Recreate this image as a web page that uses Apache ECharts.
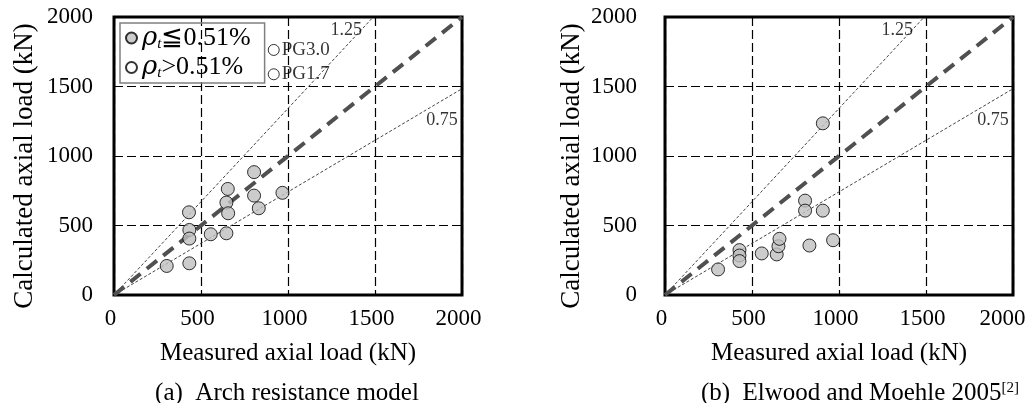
<!DOCTYPE html>
<html>
<head>
<meta charset="utf-8">
<script src="https://cdn.jsdelivr.net/npm/echarts@6/dist/echarts.min.js"></script>
<style>html,body{margin:0;padding:0;background:#fff;}#c{width:1035px;height:403px;}</style>
</head>
<body>
<div id="c"></div>
<script>
// ---- data ----
const ticks = [0, 500, 1000, 1500, 2000];
// (a) Arch resistance model, rho_t <= 0.51%
const archMeasured   = [303, 433, 431, 433, 433, 556, 646, 654, 646, 656, 805, 805, 832, 968];
const archCalculated = [209, 228, 595, 468, 406, 437, 444, 763, 665, 588, 884, 715, 624, 735];
// (a) open-circle markers (rho_t > 0.51%)
const pgNames      = ['PG3.0', 'PG1.7'];
const pgMeasured   = [918, 918];
const pgCalculated = [1763, 1588];
// (b) Elwood and Moehle 2005
const emMeasured   = [305, 428, 428, 428, 556, 642, 652, 658, 830, 805, 805, 907, 966, 907];
const emCalculated = [184, 323, 284, 244, 299, 292, 351, 404, 356, 679, 607, 607, 394, 1235];
// reference lines
const lineEqual = [[0, 0], [2000, 2000]];
const lineUpper = [[0, 0], [1490, 2000]];  // labelled 1.25
const lineLower = [[0, 0], [2000, 1484]];  // labelled 0.75
const upperLabelPos = [1335, 1906];
const lowerLabelPos = [1885, 1259];

const FONT = 'Liberation Serif, Times New Roman, serif';
const zip = (xs, ys) => xs.map((x, i) => [x, ys[i]]);
const nameLow = 'ρt≦0.51%';
const nameHigh = 'ρt>0.51%';

function xAxisCfg(gi, rightShift) {
  return {
    type: 'value', gridIndex: gi, min: ticks[0], max: ticks[ticks.length - 1], interval: ticks[1] - ticks[0],
    name: 'Measured axial load (kN)', nameLocation: 'middle', nameGap: 46,
    nameTextStyle: { fontFamily: FONT, fontSize: 25, color: '#000' },
    axisLine: { show: false }, axisTick: { show: false },
    axisLabel: {
      fontFamily: FONT, fontSize: 23, color: '#000', margin: 12,
      padding: [0, 7, 0, 0],
      formatter: v => (rightShift && v === 2000) ? '{r|2000}' : String(v),
      rich: { r: { fontFamily: FONT, fontSize: 23, color: '#000', padding: [0, 14, 0, 0] } }
    },
    splitLine: { show: true, lineStyle: { color: '#000', width: 1.2, type: [9, 4] } }
  };
}
function yAxisCfg(gi, labelMargin, nameGap) {
  return {
    type: 'value', gridIndex: gi, min: ticks[0], max: ticks[ticks.length - 1], interval: ticks[1] - ticks[0],
    name: 'Calculated axial load (kN)', nameLocation: 'middle', nameGap: nameGap, nameRotate: 90,
    nameTextStyle: { fontFamily: FONT, fontSize: 27, color: '#000', padding: [0, 20, 0, 0] },
    axisLine: { show: false }, axisTick: { show: false },
    axisLabel: { fontFamily: FONT, fontSize: 23, color: '#000', margin: labelMargin, padding: [7, 0, 0, 0],
      formatter: v => String(v) },
    splitLine: { show: true, lineStyle: { color: '#000', width: 1.2, type: [9, 4] } }
  };
}
function refLines(gi) {
  return [
    { type: 'line', xAxisIndex: gi, yAxisIndex: gi, data: lineUpper, showSymbol: false, silent: true, z: 3,
      lineStyle: { color: '#444', width: 1, type: [3, 2] } },
    { type: 'line', xAxisIndex: gi, yAxisIndex: gi, data: lineLower, showSymbol: false, silent: true, z: 3,
      lineStyle: { color: '#444', width: 1, type: [3, 2] } },
    { type: 'line', xAxisIndex: gi, yAxisIndex: gi, data: lineEqual, showSymbol: false, silent: true, z: 4,
      lineStyle: { color: '#505050', width: 4, type: [13, 8] } },
    { type: 'scatter', xAxisIndex: gi, yAxisIndex: gi, symbolSize: 0, silent: true, z: 5,
      data: [{ value: upperLabelPos, name: '1.25' }, { value: lowerLabelPos, name: '0.75' }],
      label: { show: true, position: 'inside', formatter: '{b}', fontFamily: FONT, fontSize: 18, color: '#000' } }
  ];
}
const grayMarker = { color: '#bfbfbf', borderColor: '#000', borderWidth: 1 };

const option = {
  animation: false,
  backgroundColor: '#fff',
  grid: [
    { left: 114, top: 17, width: 348, height: 278, show: true, borderColor: '#000', borderWidth: 3, backgroundColor: 'transparent' },
    { left: 665, top: 17, width: 348, height: 278, show: true, borderColor: '#000', borderWidth: 3, backgroundColor: 'transparent' }
  ],
  xAxis: [xAxisCfg(0, false), xAxisCfg(1, true)],
  yAxis: [yAxisCfg(0, 21, 76), yAxisCfg(1, 28, 80)],
  title: [
    { text: '(a)  Arch resistance model', left: 282, top: 376, textAlign: 'center',
      textStyle: { fontFamily: FONT, fontSize: 25, fontWeight: 'normal', color: '#000' } },
    { text: '(b)  Elwood and Moehle 2005{sup|[2]}', left: 855, top: 376, textAlign: 'center',
      textStyle: { fontFamily: FONT, fontSize: 25, fontWeight: 'normal', color: '#000',
        rich: { sup: { fontFamily: FONT, fontSize: 15, color: '#000', verticalAlign: 'top', padding: [0, 0, 10, 0] } } } }
  ],
  legend: {
    data: [nameLow, nameHigh], orient: 'vertical', left: 120, top: 23,
    padding: [2, 14, 2, 5], itemGap: 3, itemWidth: 11, itemHeight: 11,
    borderColor: '#808080', borderWidth: 1.5, icon: 'circle',
    selectedMode: false,
    formatter: n => n === nameLow ? '{i|ρ}{s|t}{n|≦0.51%}' : '{i|ρ}{s|t}{n|>0.51%}',
    textStyle: {
      fontFamily: FONT, fontSize: 26, color: '#000',
      rich: {
        i: { fontFamily: 'DejaVu Serif', fontStyle: 'italic', fontSize: 26, color: '#000', lineHeight: 27 },
        s: { fontFamily: FONT, fontStyle: 'italic', fontSize: 15, color: '#000', verticalAlign: 'bottom', lineHeight: 27 },
        n: { fontFamily: FONT, fontSize: 26, color: '#000', lineHeight: 27 }
      }
    }
  },
  series: [
    ...refLines(0),
    { name: nameLow, type: 'scatter', xAxisIndex: 0, yAxisIndex: 0, symbol: 'circle', symbolSize: 13, z: 6,
      itemStyle: grayMarker, data: zip(archMeasured, archCalculated) },
    { name: nameHigh, type: 'scatter', xAxisIndex: 0, yAxisIndex: 0, symbol: 'circle', symbolSize: 11, z: 6,
      itemStyle: { color: '#fff', borderColor: '#000', borderWidth: 1 },
      data: pgNames.map((n, i) => ({ name: n, value: [pgMeasured[i], pgCalculated[i]] })),
      label: { show: true, position: 'right', distance: 2, formatter: '{b}', fontFamily: FONT, fontSize: 19, color: '#000' } },
    ...refLines(1),
    { name: 'Elwood and Moehle 2005', type: 'scatter', xAxisIndex: 1, yAxisIndex: 1, symbol: 'circle', symbolSize: 13, z: 6,
      itemStyle: grayMarker, data: zip(emMeasured, emCalculated) }
  ]
};
echarts.init(document.getElementById('c'), null, { renderer: 'canvas' }).setOption(option);
</script>
</body>
</html>
